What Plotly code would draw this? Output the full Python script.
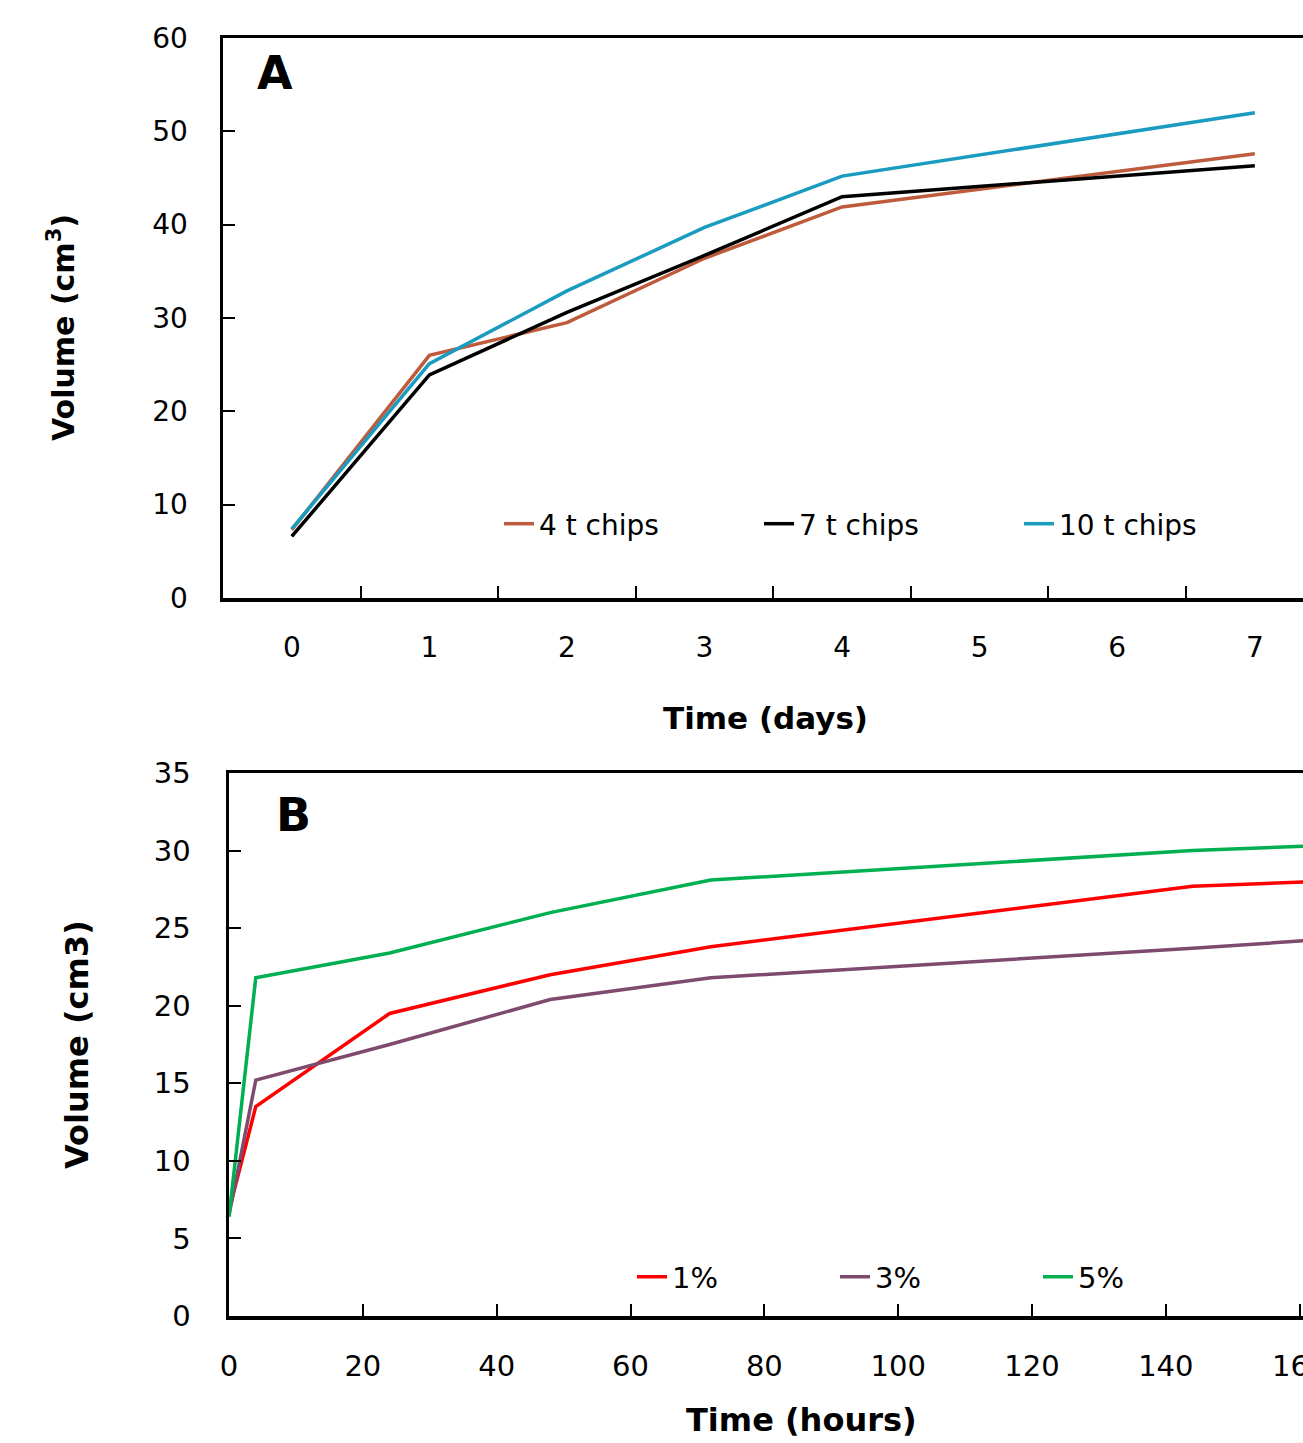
import plotly.graph_objects as go

# ---- Panel A data (days) ----
days_cats = ["0", "1", "2", "3", "4", "5", "6", "7"]
days_x = ["0", "1", "2", "3", "4", "7"]
chips4 = [7.3, 26.0, 29.5, 36.4, 41.9, 47.6]
chips7 = [6.6, 23.9, 30.6, 36.7, 43.0, 46.3]
chips10 = [7.4, 25.1, 32.9, 39.7, 45.2, 52.0]

# ---- Panel B data (hours) ----
hours = [0, 4, 24, 48, 72, 144, 168]
pct1 = [6.8, 13.5, 19.5, 22.0, 23.8, 27.7, 28.1]
pct3 = [6.5, 15.2, 17.5, 20.4, 21.8, 23.7, 24.4]
pct5 = [6.4, 21.8, 23.4, 26.0, 28.1, 30.0, 30.4]

W, H = 1303, 1443
FONT = "DejaVu Sans"

def px_x(p):
    return p / W

def px_y(p):
    return 1 - p / H

fig = go.Figure()

lw = 3.5
fig.add_trace(go.Scatter(x=days_x, y=chips4, mode="lines", name="4 t chips",
                         line=dict(color="#BE5B3C", width=lw), xaxis="x", yaxis="y", legend="legend"))
fig.add_trace(go.Scatter(x=days_x, y=chips7, mode="lines", name="7 t chips",
                         line=dict(color="#000000", width=lw), xaxis="x", yaxis="y", legend="legend"))
fig.add_trace(go.Scatter(x=days_x, y=chips10, mode="lines", name="10 t chips",
                         line=dict(color="#1A9BC0", width=lw), xaxis="x", yaxis="y", legend="legend"))

fig.add_trace(go.Scatter(x=hours, y=pct1, mode="lines", name="1%",
                         line=dict(color="#FF0000", width=lw), xaxis="x2", yaxis="y2", legend="legend2"))
fig.add_trace(go.Scatter(x=hours, y=pct3, mode="lines", name="3%",
                         line=dict(color="#7E4A6E", width=lw), xaxis="x2", yaxis="y2", legend="legend2"))
fig.add_trace(go.Scatter(x=hours, y=pct5, mode="lines", name="5%",
                         line=dict(color="#00B050", width=lw), xaxis="x2", yaxis="y2", legend="legend2"))

axis_common = dict(showline=True, linecolor="black", linewidth=3.5, showgrid=False,
                   zeroline=False, ticks="inside", ticklen=12, tickwidth=2,
                   tickcolor="black", fixedrange=True, automargin=False)

fig.update_layout(
    template="none",
    width=W, height=H, autosize=False,
    margin=dict(l=0, r=0, t=0, b=0, pad=0, autoexpand=False),
    paper_bgcolor="white", plot_bgcolor="white",
    font=dict(family=FONT, color="black", size=28),
    xaxis=dict(domain=[px_x(223), 1], anchor="y", type="category",
               categoryorder="array", categoryarray=days_cats,
               range=[-0.5, 7.35], tickson="boundaries", mirror=True,
               ticklabelstandoff=22, tickfont=dict(size=28), **axis_common),
    yaxis=dict(domain=[px_y(598), px_y(38)], anchor="x", range=[0, 60], dtick=10,
               mirror=False, ticklabelstandoff=26, tickfont=dict(size=28), **axis_common),
    xaxis2=dict(domain=[px_x(229), 1], anchor="y2", range=[0, 160.5], dtick=20,
                mirror=True, ticklabelstandoff=22, tickfont=dict(size=29),
                ticklabeloverflow="allow", **axis_common),
    yaxis2=dict(domain=[px_y(1316), px_y(773)], anchor="x2", range=[0, 35], dtick=5,
                mirror=False, ticklabelstandoff=29, tickfont=dict(size=29), **axis_common),
    legend=dict(orientation="h", x=px_x(499), xanchor="left", y=px_y(524), yanchor="middle",
                font=dict(size=28), entrywidth=215, entrywidthmode="pixels",
                bgcolor="rgba(0,0,0,0)", itemwidth=30),
    legend2=dict(orientation="h", x=px_x(632), xanchor="left", y=px_y(1277), yanchor="middle",
                 font=dict(size=29), entrywidth=158, entrywidthmode="pixels",
                 bgcolor="rgba(0,0,0,0)", itemwidth=30),
    showlegend=True,
)

annotations = [
    dict(text="<b>A</b>", x=px_x(275), y=px_y(73), font=dict(size=46)),
    dict(text="<b>B</b>", x=px_x(293), y=px_y(815), font=dict(size=46)),
    dict(text="<b>Time (days)</b>", x=px_x(765), y=px_y(718), font=dict(size=31)),
    dict(text="<b>Time (hours)</b>", x=px_x(801), y=px_y(1420), font=dict(size=32)),
    dict(text="<b>Volume (cm<sup>3</sup>)</b>", x=px_x(62), y=px_y(328), textangle=-90,
         font=dict(size=30)),
    dict(text="<b>Volume (cm3)</b>", x=px_x(77), y=px_y(1045), textangle=-90,
         font=dict(size=32)),
]
for a in annotations:
    a.update(xref="paper", yref="paper", showarrow=False, xanchor="center", yanchor="middle")
fig.update_layout(annotations=annotations)

fig.write_html("out.html",
               config={"displayModeBar": False, "staticPlot": True},
               post_script="document.body.style.margin='0';document.body.style.overflow='hidden';")
